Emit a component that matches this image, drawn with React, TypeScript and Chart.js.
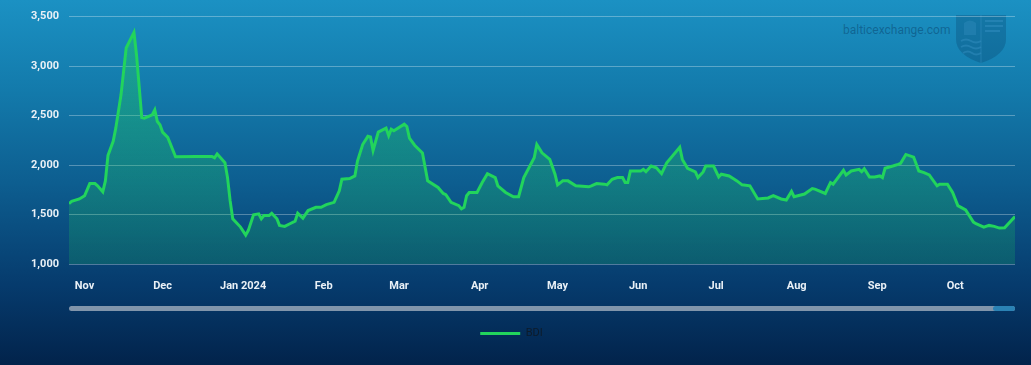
import React, { useEffect, useRef } from "react";
import { Chart, registerables } from "chart.js";

Chart.register(...registerables);

// x values: days counted from 2023-11-01 (estimated dates of the BDI fixings)
const bdiDays = [
  -6, -5, -2, 0, 2, 4, 5, 7, 8, 9, 11, 12, 14, 16, 19, 20, 22, 23, 26, 27, 28, 29, 30, 32, 35,
  43, 49, 50, 51, 54, 55, 56, 57, 60, 62, 63, 65, 67, 68, 69, 71, 72, 74, 75, 77, 79, 81, 82,
  84, 86, 89, 91, 93, 96, 98, 99, 102, 104, 105, 107, 109, 110, 111, 113, 116, 117, 118, 119,
  123, 124, 125, 127, 130, 132, 136, 138, 139, 141, 144, 145, 146, 147, 148, 151, 153, 155,
  158, 159, 162, 165, 167, 169, 173, 174, 176, 179, 181, 182, 184, 186, 189, 194, 195, 197,
  200, 201, 203, 205, 207, 208, 209, 210, 214, 215, 216, 218, 220, 222, 224, 229, 230, 232,
  235, 236, 238, 239, 242, 244, 245, 248, 250, 251, 253, 256, 259, 263, 265, 268, 270, 272,
  273, 277, 280, 281, 285, 287, 288, 292, 293, 295, 298, 299, 300, 302, 304, 306, 307, 308,
  311, 313, 314, 316, 319, 321, 323, 325, 328, 329, 332, 334, 336, 339, 342, 343, 346, 348,
  350, 352, 354, 358,
];

const bdiValues = [
  1610, 1633, 1657, 1690, 1813, 1813, 1790, 1730, 1840, 2097, 2240, 2373, 2707, 3183, 3340,
  3107, 2480, 2473, 2507, 2557, 2440, 2407, 2333, 2280, 2083,
  2087, 2087, 2073, 2113, 2023, 1873, 1640, 1457, 1373, 1293, 1340, 1497, 1507, 1457, 1490,
  1490, 1513, 1457, 1390, 1380, 1407, 1433, 1513,
  1463, 1540, 1573, 1573, 1600, 1623, 1740, 1857, 1863, 1890, 2040, 2207, 2290, 2283, 2147,
  2333, 2373, 2297, 2363, 2347,
  2413, 2390, 2273, 2200, 2123, 1840, 1773, 1713, 1700, 1623, 1590, 1557, 1573, 1690, 1723,
  1723, 1823, 1913,
  1873, 1790, 1723, 1680, 1680, 1873, 2073, 2207, 2123, 2057, 1907, 1800, 1840, 1840, 1790,
  1780, 1790, 1813,
  1807, 1800, 1857, 1873, 1873, 1823, 1823, 1940, 1940, 1957, 1933, 1990, 1973, 1913, 2023,
  2180, 2057, 1967,
  1930, 1873, 1930, 1990, 1990, 1880, 1907, 1890, 1857, 1840, 1800, 1790, 1657, 1667, 1690,
  1657, 1647, 1733,
  1680, 1707, 1763, 1757, 1713, 1823, 1807, 1947, 1900, 1940, 1957, 1933, 1963, 1880, 1880,
  1890, 1873, 1967,
  1990, 2007, 2017, 2107, 2080, 1940, 1923, 1900, 1790, 1807, 1807, 1723, 1590, 1547, 1423,
  1407, 1373, 1390,
  1380, 1363, 1367, 1480,
];

const monthTickDays = [0, 30, 61, 92, 121, 152, 182, 213, 243, 274, 305, 335];
const monthTickLabels = ["Nov", "Dec", "Jan 2024", "Feb", "Mar", "Apr", "May", "Jun", "Jul", "Aug", "Sep", "Oct"];

const seriesName = "BDI";
const yMin = 1000;
const yMax = 3500;
const yStep = 500;
const xMin = -6;
const xMax = 358;

const LINE = "#22d45c";
const TICK_COLOR = "#e9f0f6";
const FONT = "Roboto, 'Liberation Sans', sans-serif";

const scrollbarPlugin = {
  id: "scrollbar",
  afterDraw(chart: any) {
    const { ctx, chartArea } = chart;
    if (!chartArea) return;
    const y = chartArea.bottom + 42;
    const h = 5;
    ctx.save();
    ctx.fillStyle = "#8195ab";
    ctx.beginPath();
    ctx.roundRect(chartArea.left, y, chartArea.right - chartArea.left, h, h / 2);
    ctx.fill();
    ctx.fillStyle = "#2b82b4";
    ctx.beginPath();
    ctx.roundRect(chartArea.right - 22, y, 22, h, h / 2);
    ctx.fill();
    ctx.restore();
  },
};

export default function App() {
  const canvasRef = useRef<HTMLCanvasElement | null>(null);

  useEffect(() => {
    if (!canvasRef.current) return;
    const data = bdiDays.map((d, i) => ({ x: d, y: bdiValues[i] }));
    const chart = new Chart(canvasRef.current, {
      type: "line",
      data: {
        datasets: [
          {
            label: seriesName,
            data,
            borderColor: LINE,
            borderWidth: 3,
            pointRadius: 0,
            tension: 0,
            fill: "start",
            backgroundColor: (ctx: any) => {
              const { chart } = ctx;
              const area = chart.chartArea;
              if (!area) return "rgba(34,212,92,0.3)";
              const g = chart.ctx.createLinearGradient(0, area.top, 0, area.bottom);
              g.addColorStop(0, "rgba(34,212,92,0.4)");
              g.addColorStop(1, "rgba(34,212,92,0.18)");
              return g;
            },
          },
        ],
      },
      options: {
        animation: false,
        responsive: false,
        maintainAspectRatio: false,
        events: [],
        layout: { padding: { top: 12, right: 16, bottom: 16, left: 8 } },
        scales: {
          x: {
            type: "linear",
            min: xMin,
            max: xMax,
            grid: { display: false },
            border: { display: false },
            afterBuildTicks: (scale: any) => {
              scale.ticks = monthTickDays.map((v) => ({ value: v }));
            },
            afterFit: (scale: any) => {
              scale.height = 54;
            },
            ticks: {
              autoSkip: false,
              maxRotation: 0,
              padding: 8,
              color: TICK_COLOR,
              font: { family: FONT, size: 11, weight: "bold" },
              callback: (_v: any, i: number) => monthTickLabels[i],
            },
          },
          y: {
            min: yMin,
            max: yMax,
            border: { display: false },
            grid: { color: "rgba(255,255,255,0.3)", lineWidth: 1, drawTicks: false },
            afterFit: (scale: any) => {
              scale.width = 61;
            },
            ticks: {
              stepSize: yStep,
              padding: 10,
              color: TICK_COLOR,
              font: { family: FONT, size: 11, weight: "bold" },
              callback: (v: any) => Number(v).toLocaleString("en-US"),
            },
          },
        },
        plugins: {
          tooltip: { enabled: false },
          legend: {
            position: "bottom",
            labels: {
              boxWidth: 40,
              boxHeight: 3,
              padding: 10,
              color: "#0d1b2a",
              font: { family: FONT, size: 11 },
              generateLabels: () => [
                {
                  text: seriesName,
                  fillStyle: LINE,
                  strokeStyle: LINE,
                  lineWidth: 0,
                  hidden: false,
                  datasetIndex: 0,
                  fontColor: "#0d1b2a",
                },
              ],
            },
          },
        },
      } as any,
      plugins: [scrollbarPlugin],
    });
    return () => chart.destroy();
  }, []);

  return (
    <div
      style={{
        position: "fixed",
        left: 0,
        top: 0,
        width: 1031,
        height: 365,
        overflow: "hidden",
        background:
          "linear-gradient(to bottom, #1b91c3 0%, #137aab 25%, #0d5e90 50%, #063b6d 78%, #02234b 100%)",
      }}
    >
      <div
        style={{
          position: "absolute",
          left: 843,
          top: 23,
          fontFamily: FONT,
          fontSize: 12,
          lineHeight: "14px",
          color: "rgba(5,50,90,0.42)",
          whiteSpace: "nowrap",
        }}
      >
        balticexchange.com
      </div>
      <svg
        style={{ position: "absolute", left: 956, top: 15 }}
        width={50}
        height={49}
        viewBox="0 0 50 49"
      >
        <path d="M0,0 H50 V24 Q50,40 25,48 Q0,40 0,24 Z" fill="rgba(5,50,90,0.25)" />
        <path d="M25,0 V48" stroke="rgba(60,150,200,0.35)" strokeWidth={1.2} />
        <path d="M29,6 H47 M29,11 H47 M29,16 H44" stroke="rgba(60,150,200,0.4)" strokeWidth={2} />
        <path d="M5,26 q5,-3 10,0 t10,0 M5,32 q5,-3 10,0 t10,0 M7,38 q5,-3 9,0 t9,0" stroke="rgba(60,150,200,0.4)" strokeWidth={2} fill="none" />
        <path d="M8,8 q6,-5 12,0 v12 h-12 z" fill="rgba(60,150,200,0.3)" />
      </svg>
      <canvas
        ref={canvasRef}
        width={1031}
        height={365}
        style={{ position: "absolute", left: 0, top: 0, width: 1031, height: 365 }}
      />
    </div>
  );
}
